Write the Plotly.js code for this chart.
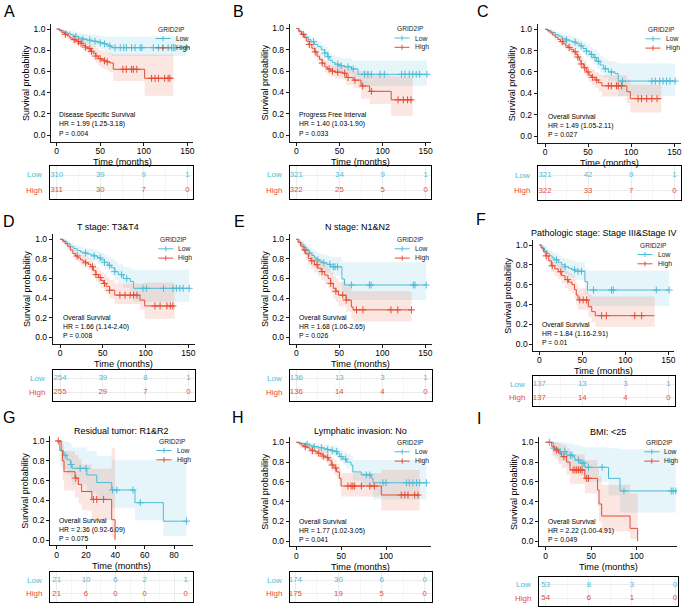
<!DOCTYPE html>
<html><head><meta charset="utf-8">
<script src="https://cdn.plot.ly/plotly-3.0.1.min.js"></script>
<style>html,body{margin:0;padding:0;background:#fff}#chart{width:685px;height:607px}</style>
</head><body><div id="chart"></div>
<script>
// ---------------- DATA ----------------
const groups = ['Low', 'High'];
const legendTitle = 'GRID2IP';

// A
const A_low_t = [0,4,8,12,16,20,25,30,35,40,45,50,54,57,60,63,149];
const A_low_s = [1,0.985,0.97,0.96,0.945,0.93,0.915,0.905,0.895,0.885,0.88,0.87,0.86,0.85,0.84,0.824,0.824];
const A_low_lo = [1,0.97,0.95,0.935,0.915,0.9,0.88,0.865,0.85,0.835,0.825,0.81,0.795,0.785,0.77,0.745,0.745];
const A_low_hi = [1,1,0.995,0.99,0.98,0.97,0.96,0.955,0.95,0.945,0.94,0.935,0.93,0.93,0.93,0.93,0.93];
const A_low_cens = [22,30,38,44,50,55,61,67,73,77,80,86,90,96,98,111,117,122,128,132,134,136,149];
const A_high_t = [0,3,6,9,12,15,18,21,24,27,30,33,36,39,42,45,48,51,54,58,61,65,101,134];
const A_high_s = [1,0.985,0.965,0.95,0.935,0.915,0.9,0.89,0.88,0.865,0.845,0.83,0.815,0.79,0.77,0.745,0.72,0.71,0.7,0.69,0.68,0.62,0.535,0.535];
const A_high_lo = [1,0.97,0.945,0.925,0.905,0.885,0.865,0.85,0.84,0.82,0.8,0.78,0.765,0.735,0.71,0.68,0.65,0.635,0.62,0.605,0.59,0.51,0.37,0.37];
const A_high_hi = [1,1,0.99,0.98,0.97,0.955,0.94,0.935,0.925,0.915,0.9,0.89,0.875,0.855,0.84,0.82,0.8,0.795,0.785,0.78,0.77,0.76,0.76,0.76];
const A_high_cens = [10,20,25,28,33,38,40,45,50,55,58,76,80,86,88,92,109,113,117,124,128,130];

// B
const B_low_t = [0,3,6,10,14,17,21,25,29,33,36,39,42,45,50,56,64,71.5,151.5];
const B_low_s = [1,0.975,0.95,0.92,0.895,0.875,0.85,0.83,0.8,0.77,0.735,0.7,0.68,0.665,0.65,0.64,0.62,0.57,0.57];
const B_low_lo = [1,0.955,0.925,0.89,0.86,0.835,0.81,0.785,0.75,0.72,0.68,0.645,0.62,0.6,0.585,0.57,0.55,0.46,0.46];
const B_low_hi = [1,0.995,0.98,0.955,0.935,0.915,0.895,0.88,0.85,0.83,0.8,0.765,0.75,0.735,0.725,0.72,0.7,0.7,0.7];
const B_low_cens = [20,33,37,48,52,60,66,79,83,87,97,102,122,126,131,135,139,143,151.5];
const B_high_t = [0,3,6,9,12,15,18,21,24,27,30,33,36,40,45,54,58,66,75,85,110,135];
const B_high_s = [1,0.97,0.945,0.915,0.88,0.85,0.815,0.78,0.74,0.71,0.675,0.64,0.62,0.6,0.59,0.58,0.54,0.515,0.46,0.41,0.33,0.33];
const B_high_lo = [1,0.95,0.92,0.885,0.845,0.81,0.775,0.735,0.695,0.66,0.625,0.59,0.565,0.545,0.53,0.515,0.47,0.44,0.34,0.29,0.18,0.18];
const B_high_hi = [1,0.99,0.975,0.95,0.92,0.89,0.86,0.83,0.79,0.765,0.73,0.7,0.68,0.66,0.655,0.65,0.62,0.6,0.6,0.56,0.55,0.55];
const B_high_cens = [8,15,22,30,38,42,48,56,60,68,77,87,118,124,129,133];

// C
const C_low_t = [0,4,8,12,16,20,24,28,32,36,40,44,48,52,56,60,64,68,73.5,81,85,151];
const C_low_s = [1,0.985,0.97,0.95,0.935,0.915,0.9,0.89,0.88,0.865,0.845,0.82,0.795,0.765,0.735,0.7,0.665,0.63,0.6,0.585,0.515,0.515];
const C_low_lo = [1,0.97,0.95,0.93,0.91,0.885,0.87,0.855,0.84,0.82,0.8,0.77,0.74,0.71,0.67,0.63,0.59,0.55,0.515,0.495,0.375,0.375];
const C_low_hi = [1,1,0.99,0.975,0.965,0.95,0.94,0.93,0.925,0.915,0.9,0.88,0.86,0.835,0.81,0.78,0.75,0.72,0.7,0.69,0.68,0.68];
const C_low_cens = [25,35,42,48,54,58,62,70,77,90,124,128,133,137,141,145,151];
const C_high_t = [0,3,6,9,12,15,18,21,24,27,30,33,36,38,40,42,45,48,51,54,58,62,66,95,99,135];
const C_high_s = [1,0.985,0.965,0.945,0.925,0.905,0.885,0.865,0.845,0.83,0.81,0.79,0.765,0.74,0.71,0.675,0.64,0.6,0.57,0.55,0.525,0.5,0.47,0.415,0.35,0.35];
const C_high_lo = [1,0.97,0.945,0.92,0.9,0.875,0.85,0.83,0.81,0.79,0.77,0.745,0.72,0.69,0.66,0.62,0.58,0.54,0.505,0.48,0.45,0.42,0.37,0.31,0.22,0.22];
const C_high_hi = [1,1,0.985,0.97,0.955,0.94,0.925,0.905,0.89,0.875,0.86,0.84,0.82,0.8,0.77,0.735,0.705,0.67,0.645,0.625,0.6,0.58,0.57,0.53,0.48,0.48];
const C_high_cens = [20,28,35,38,42,46,50,55,60,73.5,77,83,85,89,108,112,118,124,130];

// D
const D_low_t = [0,4,8,12,16,20,24,28,32,36,40,44,48,52,56,60,64,68,74,82,86,151];
const D_low_s = [1,0.98,0.955,0.925,0.905,0.885,0.87,0.86,0.85,0.84,0.83,0.81,0.79,0.765,0.735,0.71,0.67,0.64,0.6,0.57,0.5,0.5];
const D_low_lo = [1,0.96,0.93,0.895,0.87,0.85,0.83,0.815,0.8,0.79,0.775,0.75,0.725,0.695,0.66,0.63,0.585,0.55,0.505,0.47,0.36,0.36];
const D_low_hi = [1,1,0.985,0.96,0.945,0.93,0.92,0.91,0.905,0.9,0.89,0.875,0.86,0.84,0.82,0.8,0.77,0.745,0.715,0.7,0.69,0.69];
const D_low_cens = [30,40,47,52,58,64,72,78,97,101,121,132,136,140,144,151];
const D_high_t = [0,3,6,9,12,15,18,21,24,27,30,33,36,39,42,45,48,51,54,58,64,93.5,99,134];
const D_high_s = [1,0.98,0.955,0.925,0.89,0.855,0.83,0.81,0.79,0.775,0.76,0.745,0.72,0.68,0.64,0.61,0.58,0.55,0.52,0.48,0.43,0.38,0.32,0.32];
const D_high_lo = [1,0.96,0.93,0.895,0.855,0.815,0.785,0.765,0.74,0.72,0.705,0.685,0.66,0.615,0.57,0.54,0.505,0.47,0.44,0.395,0.34,0.28,0.19,0.19];
const D_high_hi = [1,1,0.985,0.96,0.93,0.9,0.88,0.86,0.845,0.835,0.82,0.81,0.785,0.75,0.715,0.69,0.665,0.64,0.615,0.585,0.55,0.55,0.56,0.56];
const D_high_cens = [20,30,38,42,47,52,58,70,76,82,86,90,111,117,125,129,132];

// E
const E_low_t = [0,3,6,9,12,15,18,21,24,27,31,35,40,53,56,151];
const E_low_s = [1,0.97,0.945,0.915,0.89,0.86,0.835,0.81,0.79,0.775,0.76,0.745,0.72,0.595,0.534,0.534];
const E_low_lo = [1,0.94,0.905,0.87,0.84,0.805,0.775,0.745,0.72,0.7,0.68,0.66,0.63,0.46,0.38,0.38];
const E_low_hi = [1,1,0.985,0.96,0.945,0.92,0.9,0.88,0.865,0.855,0.845,0.835,0.82,0.77,0.765,0.765];
const E_low_cens = [15,25,32,39,43,45,48,64,85,87,136,138,151];
const E_high_t = [0,2,5,8,11,14,17,21,25,29,33,37,40,43,46,49,58,64,66,134];
const E_high_s = [1,0.97,0.93,0.89,0.85,0.805,0.78,0.74,0.705,0.67,0.635,0.6,0.55,0.5,0.47,0.43,0.38,0.31,0.28,0.28];
const E_high_lo = [1,0.94,0.89,0.84,0.79,0.74,0.71,0.665,0.625,0.585,0.545,0.505,0.45,0.395,0.36,0.315,0.26,0.19,0.16,0.16];
const E_high_hi = [1,1,0.975,0.945,0.915,0.875,0.855,0.825,0.795,0.765,0.735,0.705,0.665,0.625,0.6,0.565,0.52,0.47,0.47,0.47];
const E_high_cens = [10,18,24,30,40,46,54,58,70,77.5,110,118,134];

// F
const F_low_t = [0,3,6,9,12,15,18,22,26,30,34,38,42,53,56,151];
const F_low_s = [1,0.97,0.94,0.915,0.89,0.87,0.85,0.825,0.8,0.78,0.765,0.75,0.735,0.63,0.545,0.545];
const F_low_lo = [1,0.94,0.9,0.87,0.84,0.815,0.79,0.76,0.73,0.705,0.69,0.67,0.65,0.5,0.385,0.385];
const F_low_hi = [1,1,0.985,0.965,0.945,0.93,0.915,0.895,0.875,0.86,0.85,0.84,0.83,0.76,0.74,0.74];
const F_low_cens = [20,30,41,45,49,63,84,86,136,151];
const F_high_t = [0,2,5,8,11,14,18,22,26,30,34,38,41,43,45,57,61,65,134];
const F_high_s = [1,0.97,0.93,0.89,0.84,0.79,0.76,0.73,0.69,0.65,0.625,0.6,0.55,0.495,0.445,0.377,0.327,0.286,0.286];
const F_high_lo = [1,0.94,0.885,0.84,0.78,0.725,0.69,0.655,0.61,0.565,0.535,0.51,0.455,0.395,0.345,0.27,0.22,0.175,0.175];
const F_high_hi = [1,1,0.975,0.945,0.905,0.86,0.835,0.81,0.775,0.74,0.72,0.7,0.66,0.61,0.56,0.5,0.48,0.48,0.48];
const F_high_cens = [8,15,25,33,47,51,55,72.5,78,111,119];

// G
const G_low_t = [0,2,4.5,7,9.5,10.5,20.5,27.3,37.5,53.4,72.7,88.6];
const G_low_s = [1,0.905,0.857,0.81,0.762,0.724,0.657,0.58,0.505,0.377,0.19,0.19];
const G_low_lo = [1,0.79,0.72,0.66,0.6,0.56,0.48,0.4,0.32,0.2,0.04,0.04];
const G_low_hi = [1,1,1,0.99,0.965,0.935,0.9,0.85,0.81,0.81,0.81,0.81];
const G_low_cens = [5.7,9.8,16,20,38,41,52,57,88.6];
const G_high_t = [0,3,4,5,12.5,14.8,17,24,37.5,39.8];
const G_high_s = [1,0.9,0.8,0.69,0.625,0.56,0.49,0.41,0.205,0];
const G_high_lo = [1,0.74,0.6,0.5,0.43,0.37,0.3,0.2,0.03,0];
const G_high_hi = [1,1,0.97,0.9,0.86,0.82,0.76,0.72,0.93,0];
const G_high_cens = [1.1,13,25,27.3,32];

// H
const H_low_t = [0,5,10,15,20,25,30,35,40,43,46,48,52,56,61,63,72.5,83.6,85.5,145];
const H_low_s = [1,0.99,0.98,0.965,0.955,0.945,0.935,0.925,0.915,0.905,0.885,0.855,0.83,0.8,0.77,0.7,0.67,0.635,0.59,0.59];
const H_low_lo = [1,0.975,0.96,0.94,0.925,0.91,0.9,0.885,0.87,0.86,0.835,0.8,0.77,0.735,0.695,0.61,0.57,0.53,0.42,0.42];
const H_low_hi = [1,1,1,0.99,0.985,0.98,0.975,0.97,0.965,0.96,0.945,0.925,0.905,0.885,0.86,0.82,0.82,0.82,0.82,0.82];
const H_low_cens = [12,20,28,35,40,45,50,55,78,82,96.7,100,122.7,126,130,134,137.5,145];
const H_high_t = [0,3,6,9,12,15,18,21,24,27,30,33,36,39,42,45,48,50,94.8,137.5];
const H_high_s = [1,0.985,0.97,0.955,0.945,0.93,0.915,0.905,0.89,0.875,0.86,0.845,0.82,0.77,0.74,0.7,0.635,0.557,0.466,0.466];
const H_high_lo = [1,0.965,0.945,0.93,0.915,0.895,0.88,0.865,0.85,0.83,0.81,0.795,0.765,0.71,0.67,0.63,0.55,0.45,0.31,0.31];
const H_high_hi = [1,1,0.995,0.985,0.98,0.97,0.96,0.95,0.94,0.93,0.915,0.905,0.885,0.84,0.82,0.785,0.735,0.69,0.72,0.72];
const H_high_cens = [10,18,25,30,35,40,44,57.6,61,63,65,72.5,82,87,117,121,124.5,132,135.7];

// I
const I_low_t = [0,8.4,14,23,30,32,38,43,69,81.7,143];
const I_low_s = [1,0.94,0.905,0.87,0.855,0.82,0.79,0.747,0.635,0.507,0.507];
const I_low_lo = [1,0.86,0.81,0.76,0.74,0.695,0.66,0.6,0.46,0.29,0.29];
const I_low_hi = [1,1,1,0.99,0.98,0.97,0.96,0.95,0.94,0.93,0.93];
const I_low_cens = [4,9,16,21,27,29,36,40,42,47,62,86,138,140,143];
const I_high_t = [0,6.6,10,14,17.6,23,26.7,43,57,58.6,61.5,92.7,101];
const I_high_s = [1,0.956,0.922,0.89,0.855,0.8,0.72,0.635,0.517,0.375,0.253,0.128,0];
const I_high_lo = [1,0.87,0.83,0.78,0.74,0.67,0.58,0.48,0.35,0.2,0.095,0.02,0];
const I_high_hi = [1,1,1,0.99,0.975,0.94,0.88,0.82,0.73,0.65,0.57,0.48,0];
const I_high_cens = [12,20,30,32,34,36,38,40,45,47];

// risk tables
const riskTimes150 = [0,50,100,150];
const riskTimesG = [0,20,40,60,88];
const A_risk_low = [310,39,9,1], A_risk_high = [311,30,7,0];
const B_risk_low = [321,34,9,1], B_risk_high = [322,25,5,0];
const C_risk_low = [321,42,9,1], C_risk_high = [322,33,7,0];
const D_risk_low = [254,39,8,1], D_risk_high = [255,29,7,0];
const E_risk_low = [136,13,3,1], E_risk_high = [136,14,4,0];
const F_risk_low = [137,13,3,1], F_risk_high = [137,14,4,0];
const G_risk_low = [21,10,6,2,1], G_risk_high = [21,6,0,0,0];
const H_risk_low = [174,30,6,0], H_risk_high = [175,19,5,0];
const I_risk_low = [53,8,3,0], I_risk_high = [54,6,1,0];

// labels
const panelLetters = ['A','B','C','D','E','F','G','H','I'];
const panelTitles = ['', '', '', 'T stage: T3&T4', 'N stage: N1&N2', 'Pathologic stage: Stage III&Stage IV', 'Residual tumor: R1&R2', 'Lymphatic invasion: No', 'BMI: <25'];
const endpoints = ['Disease Specific Survival','Progress Free Interval','Overall Survival','Overall Survival','Overall Survival','Overall Survival','Overall Survival','Overall Survival','Overall Survival'];
const hrTexts = ['HR = 1.99 (1.25-3.18)','HR = 1.40 (1.03-1.90)','HR = 1.49 (1.05-2.11)','HR = 1.66 (1.14-2.40)','HR = 1.68 (1.06-2.65)','HR = 1.84 (1.16-2.91)','HR = 2.36 (0.92-6.09)','HR = 1.77 (1.02-3.05)','HR = 2.22 (1.00-4.91)'];
const pTexts = ['P = 0.004','P = 0.033','P = 0.027','P = 0.008','P = 0.026','P = 0.01','P = 0.075','P = 0.041','P = 0.049'];
const xTickVals = [[0,50,100,150],[0,50,100,150],[0,50,100,150],[0,50,100,150],[0,50,100,150],[0,50,100,150],[0,20,40,60,80],[0,50,100],[0,50,100]];
const yTickVals = [0,0.2,0.4,0.6,0.8,1.0];

const curves = {
  A:{Low:[A_low_t,A_low_s,A_low_lo,A_low_hi,A_low_cens],High:[A_high_t,A_high_s,A_high_lo,A_high_hi,A_high_cens],risk:[riskTimes150,A_risk_low,A_risk_high]},
  B:{Low:[B_low_t,B_low_s,B_low_lo,B_low_hi,B_low_cens],High:[B_high_t,B_high_s,B_high_lo,B_high_hi,B_high_cens],risk:[riskTimes150,B_risk_low,B_risk_high]},
  C:{Low:[C_low_t,C_low_s,C_low_lo,C_low_hi,C_low_cens],High:[C_high_t,C_high_s,C_high_lo,C_high_hi,C_high_cens],risk:[riskTimes150,C_risk_low,C_risk_high]},
  D:{Low:[D_low_t,D_low_s,D_low_lo,D_low_hi,D_low_cens],High:[D_high_t,D_high_s,D_high_lo,D_high_hi,D_high_cens],risk:[riskTimes150,D_risk_low,D_risk_high]},
  E:{Low:[E_low_t,E_low_s,E_low_lo,E_low_hi,E_low_cens],High:[E_high_t,E_high_s,E_high_lo,E_high_hi,E_high_cens],risk:[riskTimes150,E_risk_low,E_risk_high]},
  F:{Low:[F_low_t,F_low_s,F_low_lo,F_low_hi,F_low_cens],High:[F_high_t,F_high_s,F_high_lo,F_high_hi,F_high_cens],risk:[riskTimes150,F_risk_low,F_risk_high]},
  G:{Low:[G_low_t,G_low_s,G_low_lo,G_low_hi,G_low_cens],High:[G_high_t,G_high_s,G_high_lo,G_high_hi,G_high_cens],risk:[riskTimesG,G_risk_low,G_risk_high]},
  H:{Low:[H_low_t,H_low_s,H_low_lo,H_low_hi,H_low_cens],High:[H_high_t,H_high_s,H_high_lo,H_high_hi,H_high_cens],risk:[riskTimes150,H_risk_low,H_risk_high]},
  I:{Low:[I_low_t,I_low_s,I_low_lo,I_low_hi,I_low_cens],High:[I_high_t,I_high_s,I_high_lo,I_high_hi,I_high_cens],risk:[riskTimes150,I_risk_low,I_risk_high]}
};

// ---------------- GEOMETRY (pixels) ----------------
const GEO = {
  A:{xL:51,xR:193,x0:56.7,xM:187.3,M:150,yOne:29,yZero:135,yT:24,yB:142,tab:[50,193,166,199],tabX:null,letter:[9,12],titleX:0,titleY:0,xTitleY:162,legX:155.5},
  B:{xL:289.7,xR:431,x0:296.3,xM:425.7,M:150,yOne:28.5,yZero:135,yT:23.5,yB:142,tab:[290,431,166,199],tabX:null,letter:[238,11.5],titleX:0,titleY:0,xTitleY:161.7,legX:394.5},
  C:{xL:537.7,xR:681,x0:545,xM:674.3,M:150,yOne:29.3,yZero:136,yT:24,yB:143,tab:[538,681,166,200],tabX:null,letter:[482.5,11.5],titleX:0,titleY:0,xTitleY:162.7,legX:645.5},
  D:{xL:52.7,xR:195,x0:60,xM:188.3,M:150,yOne:239.3,yZero:337.3,yT:234.4,yB:344,tab:[53,195,370,401],tabX:null,letter:[8.5,221],titleX:108,titleY:226.7,xTitleY:364.5,legX:158.3},
  E:{xL:289.7,xR:432,x0:296.3,xM:425.3,M:150,yOne:239.3,yZero:337.3,yT:234.4,yB:344,tab:[290,432,370,401],tabX:null,letter:[239.7,221],titleX:357,titleY:226.7,xTitleY:364.5,legX:394.7},
  F:{xL:533.3,xR:674,x0:539.3,xM:668.3,M:150,yOne:245,yZero:344,yT:240,yB:350.7,tab:[533,675,376,406],tabX:null,letter:[481,219],titleX:0,titleY:233.3,xTitleY:370.5,legX:637.5},
  G:{xL:50,xR:192.7,x0:56.7,xM:174,M:80,yOne:441,yZero:540,yT:436,yB:545.5,tab:[50,193,572,602],tabX:null,letter:[9,417.5],titleX:0,titleY:430.7,xTitleY:565.5,legX:156.5},
  H:{xL:289.7,xR:431.3,x0:296.3,xM:386,M:100,yOne:442.3,yZero:541,yT:437.4,yB:546.5,tab:[290,432,572,602],tabX:[295.3,424.7,150],letter:[238,417.5],titleX:0,titleY:430.7,xTitleY:566.5,legX:394.7},
  I:{xL:539,xR:677,x0:545.7,xM:636.7,M:100,yOne:442.3,yZero:541,yT:437.4,yB:546.5,tab:[539,678,577,606],tabX:[545.7,675,150],letter:[478.5,418],titleX:0,titleY:431.7,xTitleY:567,legX:644.3}
};

// ---------------- BUILD ----------------
const W = 685, H = 607;
const FONT = 'Liberation Sans, Arial, Helvetica, sans-serif';
const COL = {Low:'#4DBBD5', High:'#E64B35'};
const FILL = {Low:'rgba(77,187,213,0.14)', High:'rgba(230,75,53,0.14)'};
const fx = x => x / W;
const fy = y => 1 - y / H;

function stepAt(t, s, c) {
  let v = s[0];
  for (let i = 0; i < t.length; i++) { if (t[i] <= c) v = s[i]; else break; }
  return v;
}

const traces = [];
const layout = {
  width: W, height: H, margin:{l:0,r:0,t:0,b:0}, showlegend:false,
  paper_bgcolor:'#fff', plot_bgcolor:'rgba(0,0,0,0)',
  font:{family:FONT, color:'#000'},
  annotations: [], shapes: []
};
const ann = (text, x, y, opts) => layout.annotations.push(Object.assign({
  text, x: fx(x), y: fy(y), xref:'paper', yref:'paper', showarrow:false,
  xanchor:'center', yanchor:'middle', font:{family:FONT, size:9, color:'#000'}
}, opts || {}));

panelLetters.forEach((key, i) => {
  const g = GEO[key];
  const cd = curves[key];
  const pn = 2*i + 1, tn = 2*i + 2;
  const xa = pn === 1 ? 'x' : 'x' + pn, ya = pn === 1 ? 'y' : 'y' + pn;
  const xk = pn === 1 ? 'xaxis' : 'xaxis' + pn, yk = pn === 1 ? 'yaxis' : 'yaxis' + pn;
  const txa = 'x' + tn, tya = 'y' + tn;

  // scales
  const k = (g.xM - g.x0) / g.M;
  const xr = [(g.xL - g.x0) / k, (g.xR - g.x0) / k];
  const ky = g.yZero - g.yOne;
  const yr = [-(g.yB - g.yZero) / ky, (g.yZero - g.yT) / ky];

  layout[xk] = {domain:[fx(g.xL), fx(g.xR)], range:xr, anchor:ya, showline:true, linecolor:'#000', linewidth:0.9,
    ticks:'outside', ticklen:3, tickwidth:0.9, tickcolor:'#000', tickvals:xTickVals[i], ticklabelstandoff:-2,
    tickfont:{size:8.5, color:'#000', family:FONT}, showgrid:false, zeroline:false, fixedrange:true};
  layout[yk] = {domain:[fy(g.yB), fy(g.yT)], range:yr, anchor:xa, showline:true, linecolor:'#000', linewidth:0.9,
    ticks:'outside', ticklen:3, tickwidth:0.9, tickcolor:'#000', tickvals:yTickVals, tickformat:'.1f',
    tickfont:{size:8.5, color:'#000', family:FONT}, showgrid:false, zeroline:false, fixedrange:true};

  // CI bands
  groups.forEach(gr => {
    const [t, s, lo, hi] = cd[gr];
    traces.push({x:t, y:lo, xaxis:xa, yaxis:ya, mode:'lines', line:{shape:'hv', width:0, color:COL[gr]}, hoverinfo:'skip'});
    traces.push({x:t, y:hi, xaxis:xa, yaxis:ya, mode:'lines', line:{shape:'hv', width:0, color:COL[gr]}, fill:'tonexty', fillcolor:FILL[gr], hoverinfo:'skip'});
  });
  // curves + censor marks
  groups.forEach(gr => {
    const [t, s, lo, hi, c] = cd[gr];
    traces.push({x:t, y:s, xaxis:xa, yaxis:ya, mode:'lines', line:{shape:'hv', width:1, color:COL[gr]}, hoverinfo:'skip'});
    traces.push({x:c, y:c.map(v => stepAt(t, s, v)), xaxis:xa, yaxis:ya, mode:'markers',
      marker:{symbol:'cross-thin', size:5, color:COL[gr], line:{width:1, color:COL[gr]}}, hoverinfo:'skip'});
  });

  // risk table
  const [rt, rl, rh] = cd.risk;
  const tb = g.tab;
  let txr;
  if (g.tabX) { const kt = (g.tabX[1] - g.tabX[0]) / g.tabX[2]; txr = [(tb[0] - g.tabX[0]) / kt, (tb[1] - g.tabX[0]) / kt]; }
  else { txr = [(tb[0] - g.x0) / k, (tb[1] - g.x0) / k]; }
  const dt = key === 'G' ? 20 : 50;
  layout['xaxis' + tn] = {domain:[fx(tb[0]), fx(tb[1])], range:txr, anchor:tya, showline:true, mirror:true, linecolor:'#000', linewidth:1.3,
    showticklabels:false, ticks:'', tick0:0, dtick:dt, showgrid:true, gridcolor:'#E4E4E4', gridwidth:0.7, zeroline:false,
    minor:{dtick:dt/2, tick0:0, showgrid:true, gridcolor:'#EEEEEE', gridwidth:0.5}, fixedrange:true};
  layout['yaxis' + tn] = {domain:[fy(tb[3]), fy(tb[2])], range:[-0.6, 1.6], anchor:txa, showline:true, mirror:true, linecolor:'#000', linewidth:1.3,
    showticklabels:false, ticks:'', tickvals:[0,1], showgrid:true, gridcolor:'#E4E4E4', gridwidth:0.7, zeroline:false, fixedrange:true};
  traces.push({x:rt, y:rt.map(() => 1), xaxis:txa, yaxis:tya, mode:'text', text:rl.map(String),
    textfont:{size:7.8, color:COL.Low, family:FONT}, textposition:'middle center', hoverinfo:'skip', cliponaxis:false});
  traces.push({x:rt, y:rt.map(() => 0), xaxis:txa, yaxis:tya, mode:'text', text:rh.map(String),
    textfont:{size:7.8, color:COL.High, family:FONT}, textposition:'middle center', hoverinfo:'skip', cliponaxis:false});
  const rowY = v => tb[2] + (1.6 - v) / 2.2 * (tb[3] - tb[2]);
  ann('Low', tb[0] - 6, rowY(1), {xanchor:'right', font:{family:FONT, size:8, color:COL.Low}});
  ann('High', tb[0] - 6, rowY(0), {xanchor:'right', font:{family:FONT, size:8, color:COL.High}});

  // text
  ann(key, g.letter[0], g.letter[1], {font:{family:FONT, size:16, color:'#000'}});
  if (panelTitles[i]) ann(panelTitles[i], g.titleX || (g.xL + g.xR) / 2, g.titleY, {font:{family:FONT, size:9, color:'#000'}});
  ann('Time (months)', (g.xL + g.xR) / 2, g.xTitleY, {font:{family:FONT, size:9.2, color:'#000'}});
  ann('Survival probability', g.xL - 25, (g.yT + g.yB) / 2, {textangle:-90, font:{family:FONT, size:9, color:'#000'}});
  ann(endpoints[i], g.x0 + 0.5, g.yZero - 19.8, {xanchor:'left', font:{family:FONT, size:6.8, color:'#000'}});
  ann(hrTexts[i], g.x0 + 0.5, g.yZero - 10.5, {xanchor:'left', font:{family:FONT, size:6.8, color:'#000'}});
  ann(pTexts[i], g.x0 + 0.5, g.yZero - 1.5, {xanchor:'left', font:{family:FONT, size:6.8, color:'#000'}});

  // legend
  const lx = g.legX;
  ann(legendTitle, lx, g.yOne + 0.3, {xanchor:'left', font:{family:FONT, size:6.6, color:'#222'}});
  groups.forEach((gr, j) => {
    const ly = g.yOne + 9.5 + j * 9.3;
    ann(gr, lx + 18, ly, {xanchor:'left', font:{family:FONT, size:6.8, color:'#222'}});
    layout.shapes.push({type:'line', xref:'paper', yref:'paper', x0:fx(lx), x1:fx(lx + 15), y0:fy(ly), y1:fy(ly), line:{color:COL[gr], width:1}});
    layout.shapes.push({type:'line', xref:'paper', yref:'paper', x0:fx(lx + 7.5), x1:fx(lx + 7.5), y0:fy(ly - 2.5), y1:fy(ly + 2.5), line:{color:COL[gr], width:1}});
  });
});

Plotly.newPlot('chart', traces, layout, {staticPlot:true, displayModeBar:false});
</script></body></html>
